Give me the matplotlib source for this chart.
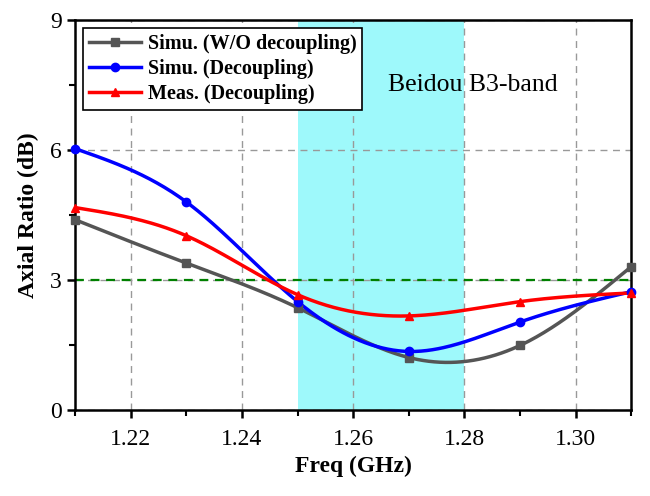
import numpy as np
import matplotlib.pyplot as plt

plt.rcParams["font.family"] = "Liberation Serif"
plt.rcParams["axes.linewidth"] = 1.8
plt.rcParams["xtick.major.width"] = 1.8
plt.rcParams["ytick.major.width"] = 1.8
plt.rcParams["xtick.minor.width"] = 1.5
plt.rcParams["ytick.minor.width"] = 1.5
plt.rcParams["xtick.direction"] = 'out'
plt.rcParams["ytick.direction"] = 'out'

freq = [1.21, 1.23, 1.25, 1.27, 1.29, 1.31]
ar_wo = [4.39, 3.39, 2.36, 1.21, 1.49, 3.31]
ar_sim = [6.03, 4.80, 2.50, 1.35, 2.03, 2.73]
ar_meas = [4.67, 4.02, 2.66, 2.17, 2.50, 2.70]
band = [1.25, 1.28]


# natural cubic spline, only used to draw the smooth line between markers
def spline(x, y, xs):
    x = np.array(x); y = np.array(y)
    n = len(x)
    h = np.diff(x)
    A = np.zeros((n, n))
    b = np.zeros(n)
    A[0, 0] = 1; A[-1, -1] = 1
    for i in range(1, n-1):
        A[i, i-1] = h[i-1]
        A[i, i] = 2*(h[i-1]+h[i])
        A[i, i+1] = h[i]
        b[i] = 3*((y[i+1]-y[i])/h[i] - (y[i]-y[i-1])/h[i-1])
    c = np.linalg.solve(A, b)
    out = []
    for t in xs:
        i = min(max(np.searchsorted(x, t)-1, 0), n-2)
        d = t - x[i]
        bb = (y[i+1]-y[i])/h[i] - h[i]*(2*c[i]+c[i+1])/3
        dd = (c[i+1]-c[i])/(3*h[i])
        out.append(y[i] + bb*d + c[i]*d*d + dd*d**3)
    return np.array(out)


fig = plt.figure(figsize=(6.5, 4.96), dpi=100)
ax = fig.add_axes([0.1154, 0.1734, 0.856, 0.7866])

ax.axvspan(band[0], band[1], color='#9ef9fb', zorder=0, lw=0)
ax.grid(True, which='major', linestyle=(0, (5, 4)), color='#999999', linewidth=1.0, zorder=1)
ax.axhline(3, color='green', linestyle=(0, (4, 3)), linewidth=1.6, zorder=2)

xs = np.linspace(1.21, 1.31, 300)
series = [(ar_wo, '#555555', 's', 'Simu. (W/O decoupling)'),
          (ar_sim, '#0000ff', 'o', 'Simu. (Decoupling)'),
          (ar_meas, '#ff0000', '^', 'Meas. (Decoupling)')]
for y, c, m, lab in series:
    ax.plot(xs, spline(freq, y, xs), color=c, linewidth=2.5, zorder=3)
    ax.plot(freq, y, color=c, marker=m, markersize=6, linestyle='none', zorder=4, clip_on=False)
    ax.plot([], [], color=c, marker=m, markersize=6, linewidth=2.5, label=lab)

ax.text(1.2815, 7.5, "Beidou B3-band", fontsize=18.5, ha='center', va='center')

ax.set_xlim(1.21, 1.31)
ax.set_ylim(0, 9)
ax.set_xticks([1.22, 1.24, 1.26, 1.28, 1.30])
ax.set_xticks([1.21, 1.23, 1.25, 1.27, 1.29, 1.31], minor=True)
ax.set_yticks([0, 3, 6, 9])
ax.set_yticks([1.5, 4.5, 7.5], minor=True)
ax.tick_params(axis='both', which='major', labelsize=17, length=6)
ax.tick_params(axis='both', which='minor', length=4)
ax.tick_params(axis='x', which='major', pad=8)
ax.set_xlabel("Freq (GHz)", fontsize=17, fontweight='bold')
ax.set_ylabel("Axial Ratio (dB)", fontsize=17, fontweight='bold', labelpad=8)

leg = ax.legend(loc='upper left', prop={'weight': 'bold', 'size': 14.5},
                fancybox=False, edgecolor='black', framealpha=1, handlelength=2.6,
                borderpad=0.3, labelspacing=0.25, handletextpad=0.3, borderaxespad=0.4)
leg.get_frame().set_linewidth(1.2)
leg.set_zorder(5)

plt.savefig("out.png", dpi=100)
